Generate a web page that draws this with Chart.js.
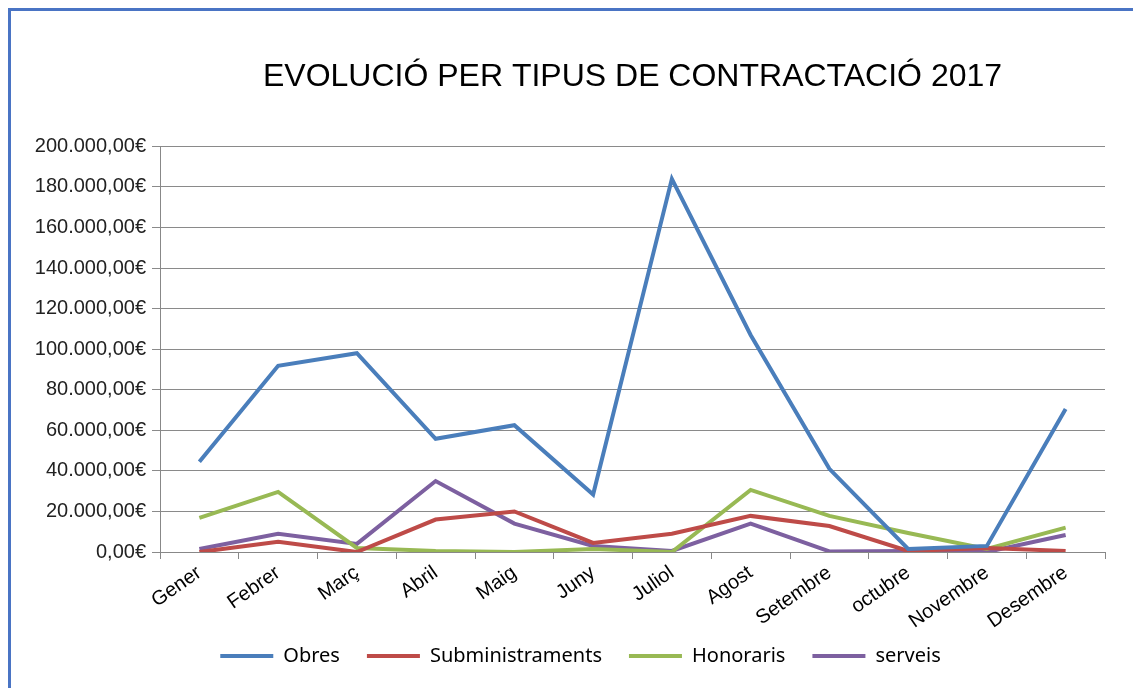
<!DOCTYPE html>
<html>
<head>
<meta charset="utf-8">
<script src="https://cdn.jsdelivr.net/npm/chart.js@4.4.1/dist/chart.umd.min.js"></script>
<style>
  html, body { margin: 0; padding: 0; background: #ffffff; }
  #wrap { position: relative; width: 1133px; height: 688px; overflow: hidden; }
  #frame { position: absolute; left: 8px; top: 8px; width: 1140px; height: 700px;
           border-top: 3px solid #4a74c4; border-left: 3px solid #4a74c4; box-sizing: border-box; }
  canvas { position: absolute; left: 0; top: 0; }
</style>
</head>
<body>
<div id="wrap">
  <div id="frame"></div>
  <canvas id="c" width="1133" height="688"></canvas>
</div>
<script>
const titleText = 'EVOLUCIÓ PER TIPUS DE CONTRACTACIÓ 2017';
const months = ['Gener', 'Febrer', 'Març', 'Abril', 'Maig', 'Juny', 'Juliol', 'Agost', 'Setembre', 'octubre', 'Novembre', 'Desembre'];
const obres = [44500, 91800, 98000, 55800, 62500, 28300, 184000, 107000, 41000, 1500, 3000, 70500];
const subministraments = [0, 5000, 0, 16000, 20000, 4500, 9000, 17800, 12800, 500, 2000, 500];
const honoraris = [16800, 29600, 2000, 500, 0, 1500, 0, 30600, 17800, 9400, 1500, 12000];
const serveis = [1500, 9000, 4000, 35000, 14000, 3000, 500, 14000, 300, 500, 0, 8400];
const yTicks = [0, 20000, 40000, 60000, 80000, 100000, 120000, 140000, 160000, 180000, 200000];

function euro(v) {
  const s = Math.round(v).toString().replace(/\B(?=(\d{3})+(?!\d))/g, '.');
  return s + ',00€';
}

function ds(label, data, color) {
  return { label, data, borderColor: color, backgroundColor: color, borderWidth: 4,
           pointRadius: 0, pointHoverRadius: 0, tension: 0, fill: false, yAxisID: 'y' };
}

new Chart(document.getElementById('c'), {
  type: 'line',
  data: {
    labels: months,
    datasets: [
      ds('Obres', obres, '#4a7ebb'),
      ds('Subministraments', subministraments, '#be4b48'),
      ds('Honoraris', honoraris, '#98b954'),
      ds('serveis', serveis, '#7d60a0')
    ]
  },
  options: {
    responsive: false,
    animation: false,
    layout: { padding: { left: 28, right: 0, top: 0, bottom: 12 } },
    plugins: {
      tooltip: { enabled: false },
      title: {
        display: true, text: titleText, fullSize: false,
        color: '#000000',
        font: { family: 'Liberation Sans', size: 32, weight: 'normal' },
        padding: { top: 58, bottom: 50 }
      },
      legend: {
        position: 'bottom',
        labels: {
          usePointStyle: true, pointStyle: 'line', pointStyleWidth: 53,
          color: '#000000', padding: 27,
          font: { family: 'Noto Sans', size: 20 }
        }
      }
    },
    scales: {
      x: {
        offset: true,
        grid: { offset: true, drawOnChartArea: false, drawTicks: true, tickLength: 7, color: '#888888' },
        border: { color: '#888888' },
        ticks: { color: '#000000', minRotation: 35, maxRotation: 35, autoSkip: false, padding: 2,
                 font: { family: 'Liberation Sans', size: 20 } },
        afterFit: (s) => { s.height = 67; s._computeLabelArea = () => undefined; }
      },
      y: {
        min: 0, max: 200000,
        afterBuildTicks: (s) => { s.ticks = yTicks.map(v => ({ value: v })); },
        grid: { color: '#8a8a8a', tickLength: 8, drawTicks: true },
        border: { color: '#888888' },
        ticks: { color: '#222222', padding: 6, callback: (v) => euro(v),
                 font: { family: 'Liberation Sans', size: 20 } },
        afterFit: (s) => { s.width = 132; }
      },
      yR: {
        position: 'right', display: true, min: 0, max: 1,
        grid: { display: false, drawTicks: false },
        border: { display: false },
        ticks: { display: false },
        afterFit: (s) => { s.width = 28; }
      }
    }
  }
});
</script>
</body>
</html>
